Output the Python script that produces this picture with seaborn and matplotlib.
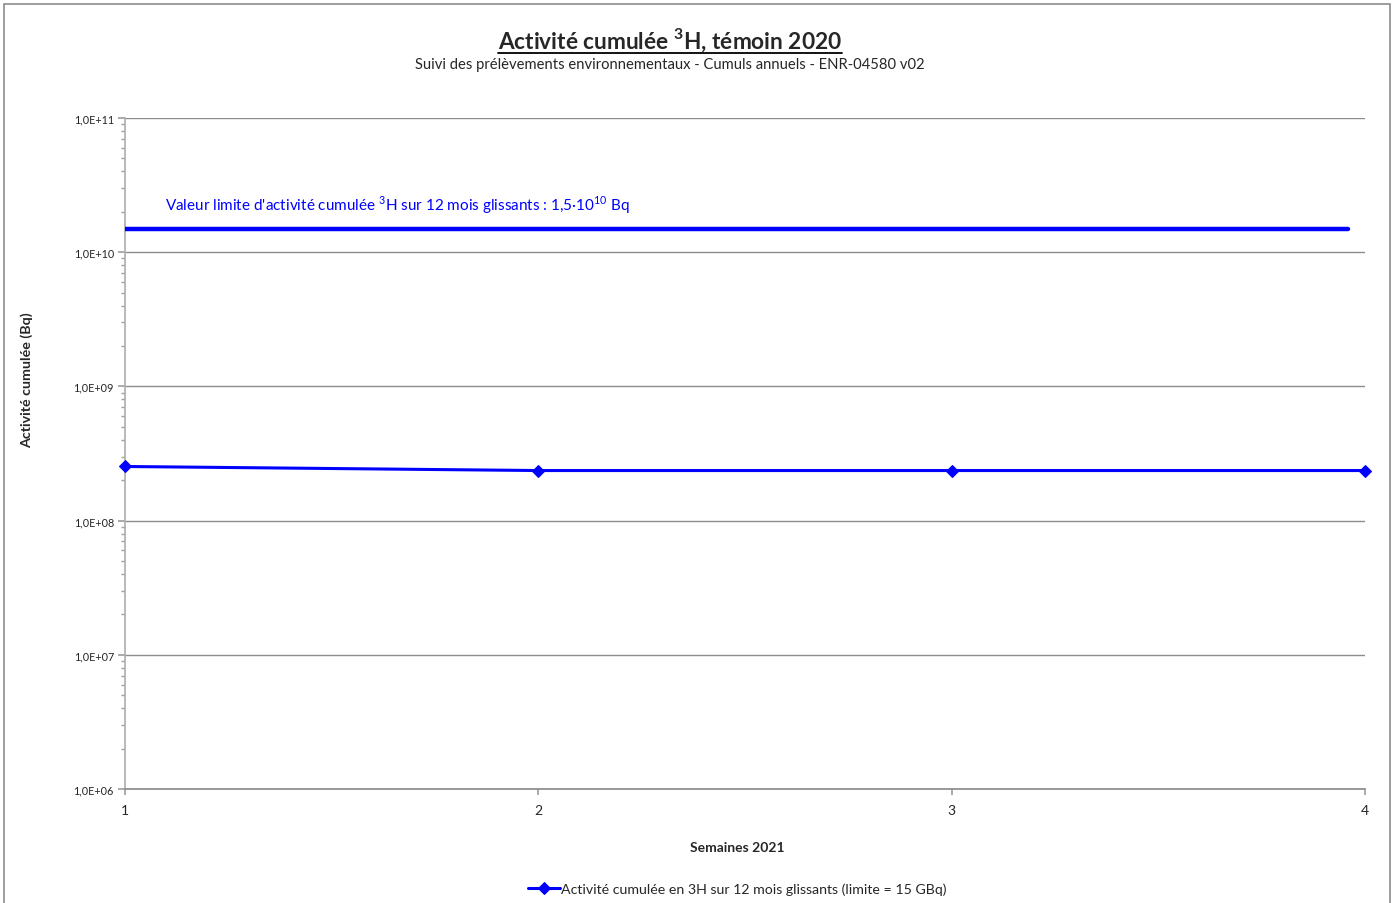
import pandas as pd
import math
import matplotlib
matplotlib.use('Agg')
import matplotlib.pyplot as plt
import seaborn as sns
from matplotlib.ticker import FixedLocator, LogLocator, FuncFormatter, NullFormatter
from matplotlib.lines import Line2D
from matplotlib.patches import Rectangle

# données
semaines = [1, 2, 3, 4]
activite_cumulee = [2.53e8, 2.36e8, 2.36e8, 2.36e8]
valeur_limite = 1.5e10
serie_label = "Activité cumulée en 3H sur 12 mois glissants (limite = 15 GBq)"

sns.set_theme(style='white')
plt.rcParams['font.family'] = ['Lato', 'DejaVu Sans']
plt.rcParams['mathtext.fontset'] = 'custom'
plt.rcParams['mathtext.rm'] = 'Lato'
plt.rcParams['mathtext.bf'] = 'Lato:bold'

df = pd.DataFrame({'Semaine': semaines, 'Activite': activite_cumulee})

fig = plt.figure(figsize=(13.94, 9.04), dpi=100)
ax = fig.add_axes([0.0897, 0.1261, 0.8895, 0.7423])

sns.lineplot(data=df, x='Semaine', y='Activite', ax=ax, color='#0000FF', linewidth=2.2,
             marker='D', markersize=6.5, markeredgecolor='#0000FF', label=serie_label,
             clip_on=False, zorder=5)

ax.set_yscale('log')
ax.set_ylim(1e6, 1e11)
ax.set_xlim(1, 4)

# ligne limite
ax.axhline(valeur_limite, xmin=0, xmax=(1348 - 125) / (1365 - 125), color='#0000FF', linewidth=3.2, zorder=4)
ax.text(0.032, 0.872, r"Valeur limite d'activité cumulée $^{3}$H sur 12 mois glissants : 1,5·10$^{10}$ Bq",
        transform=ax.transAxes, color='#0000FF', fontsize=11, va='center', ha='left')

# axes / grille
ax.yaxis.set_major_locator(LogLocator(base=10, numticks=10))
ax.yaxis.set_minor_locator(LogLocator(base=10, subs=range(2, 10), numticks=50))
ax.yaxis.set_minor_formatter(NullFormatter())
ax.yaxis.set_major_formatter(FuncFormatter(lambda v, p: '1,0E+%02d' % round(math.log10(v))))
ax.xaxis.set_major_locator(FixedLocator(semaines))
ax.xaxis.set_major_formatter(FuncFormatter(lambda v, p: '%d' % v))
ax.grid(True, axis='y', which='major', color='#8c8c8c', linewidth=1)
ax.tick_params(axis='y', which='major', direction='out', length=5, color='#a0a0a0', labelsize=7.8, pad=3, left=True)
ax.tick_params(axis='y', which='minor', direction='out', length=3, color='#a0a0a0', left=True)
ax.tick_params(axis='x', which='major', direction='out', length=4, color='#a0a0a0', labelsize=10, pad=7, bottom=True)
for s in ['top', 'right']:
    ax.spines[s].set_visible(False)
ax.spines['left'].set_color('#b0b0b0')
ax.spines['bottom'].set_color('#8c8c8c')

ax.set_xlabel('Semaines 2021', fontsize=10, fontweight='bold')
ax.xaxis.set_label_coords(0.494, -0.078)
ax.set_ylabel('Activité cumulée (Bq)', fontsize=10.3, fontweight='bold')
ax.yaxis.set_label_coords(-0.074, 0.611)

# légende en bas
leg = ax.legend(loc='center', bbox_to_anchor=(0.529, 0.0155), bbox_transform=fig.transFigure,
                frameon=False, fontsize=10.2, handlelength=2.2, handletextpad=0.1)

# titre souligné
titre = fig.text(0.4806, 0.955, r"Activité cumulée $^{\mathbf{3}}$H, témoin 2020", ha='center', va='center',
                 fontsize=16.3, fontweight='bold')
fig.text(0.4806, 0.928, "Suivi des prélèvements environnementaux - Cumuls annuels - ENR-04580 v02",
         ha='center', va='center', fontsize=10.6)
fig.canvas.draw()
bb = titre.get_window_extent().transformed(fig.transFigure.inverted())
fig.add_artist(Line2D([bb.x0, bb.x1], [bb.y0 + 0.001, bb.y0 + 0.001], color='black', linewidth=1.3,
                      transform=fig.transFigure))

# cadre du graphique
fig.add_artist(Rectangle((0.003, -0.01), 0.994, 1.005, transform=fig.transFigure,
                         fill=False, edgecolor='#8c8c8c', linewidth=1.2))

plt.savefig('out.png', dpi=100)
plt.close()
